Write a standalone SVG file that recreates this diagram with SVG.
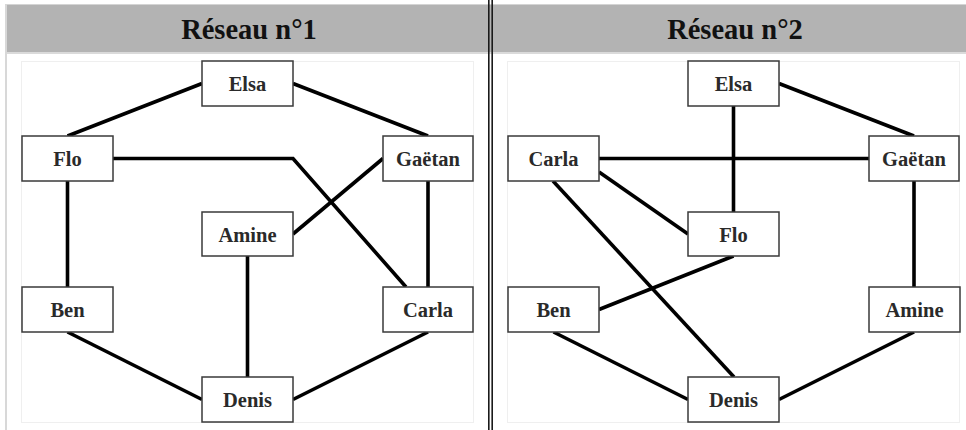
<svg xmlns="http://www.w3.org/2000/svg" width="966" height="430" viewBox="0 0 966 430">
  <style>
    .band { fill: #b3b3b3; }
    .title { font-family: "Liberation Serif", "Times New Roman", serif; font-weight: bold; font-size: 28.5px; fill: #111; text-anchor: middle; }
    .frame { fill: none; stroke: #efefef; stroke-width: 1; }
    .node rect { fill: #fff; stroke: #3a3a3a; stroke-width: 1.5; }
    .node text { font-family: "Liberation Serif", "Times New Roman", serif; font-weight: bold; font-size: 20.5px; fill: #2a2a2a; text-anchor: middle; }
    .edges line, .edges polyline { stroke: #000; stroke-width: 3.6; fill: none; stroke-linecap: butt; }
  </style>

  <rect width="966" height="430" fill="#fff"/>

  <!-- header bands -->
  <rect x="6" y="4" width="960" height="48" class="band"/>
  <line x1="6" y1="4.5" x2="966" y2="4.5" stroke="#d4d4d4" stroke-width="1"/>
  <rect x="6" y="52" width="960" height="2" fill="#dadada"/>
  <rect x="5" y="4" width="2" height="426" fill="#d8d8d8"/>
  <text class="title" x="249" y="39">Réseau n°1</text>
  <text class="title" x="735" y="39">Réseau n°2</text>

  <!-- column divider -->
  <rect x="488" y="0" width="1.6" height="430" fill="#1a1a1a"/>
  <rect x="491.4" y="0" width="1.6" height="430" fill="#1a1a1a"/>

  <!-- inner frames -->
  <rect class="frame" x="21.5" y="61.5" width="452" height="361"/>
  <rect class="frame" x="507.5" y="61.5" width="452" height="361"/>

  <!-- network 1 connectors -->
  <g id="edges-1" class="edges">
    <line x1="67.5" y1="136" x2="202" y2="83.5"/>
    <line x1="293" y1="83.5" x2="428" y2="136"/>
    <polyline points="113,158.5 293,158.5 406,287"/>
    <line x1="293" y1="234" x2="383" y2="158.5"/>
    <line x1="428" y1="181" x2="428" y2="287"/>
    <line x1="67.5" y1="181" x2="67.5" y2="287"/>
    <line x1="247.5" y1="256" x2="247.5" y2="377"/>
    <line x1="67.5" y1="332" x2="202" y2="399.5"/>
    <line x1="428" y1="332" x2="293" y2="399.5"/>
  </g>

  <!-- network 2 connectors -->
  <g id="edges-2" class="edges">
    <line x1="779" y1="83.5" x2="914" y2="136"/>
    <line x1="599" y1="158.5" x2="869" y2="158.5"/>
    <line x1="733.5" y1="106" x2="733.5" y2="212"/>
    <line x1="599" y1="172" x2="688" y2="234"/>
    <line x1="553" y1="181" x2="734" y2="377"/>
    <line x1="733.5" y1="256" x2="599" y2="309.5"/>
    <line x1="914" y1="181" x2="914" y2="287"/>
    <line x1="553.5" y1="332" x2="688" y2="399.5"/>
    <line x1="914" y1="332" x2="779" y2="399.5"/>
  </g>

  <!-- network 1 nodes -->
  <g id="n1-elsa" class="node"><rect x="202" y="61" width="91" height="45"/><text x="247.5" y="91">Elsa</text></g>
  <g id="n1-flo" class="node"><rect x="22" y="136" width="91" height="45"/><text x="67.5" y="166">Flo</text></g>
  <g id="n1-gaetan" class="node"><rect x="383" y="136" width="90" height="45"/><text x="428" y="166">Gaëtan</text></g>
  <g id="n1-amine" class="node"><rect x="202" y="212" width="91" height="44"/><text x="247.5" y="241.5">Amine</text></g>
  <g id="n1-ben" class="node"><rect x="22" y="287" width="91" height="45"/><text x="67.5" y="317">Ben</text></g>
  <g id="n1-carla" class="node"><rect x="383" y="287" width="90" height="45"/><text x="428" y="317">Carla</text></g>
  <g id="n1-denis" class="node"><rect x="202" y="377" width="91" height="45"/><text x="247.5" y="407">Denis</text></g>

  <!-- network 2 nodes -->
  <g id="n2-elsa" class="node"><rect x="688" y="61" width="91" height="45"/><text x="733.5" y="91">Elsa</text></g>
  <g id="n2-carla" class="node"><rect x="508" y="136" width="91" height="45"/><text x="553.5" y="166">Carla</text></g>
  <g id="n2-gaetan" class="node"><rect x="869" y="136" width="90" height="45"/><text x="914" y="166">Gaëtan</text></g>
  <g id="n2-flo" class="node"><rect x="688" y="212" width="91" height="44"/><text x="733.5" y="241.5">Flo</text></g>
  <g id="n2-ben" class="node"><rect x="508" y="287" width="91" height="45"/><text x="553.5" y="317">Ben</text></g>
  <g id="n2-amine" class="node"><rect x="869" y="287" width="91" height="45"/><text x="914.5" y="317">Amine</text></g>
  <g id="n2-denis" class="node"><rect x="688" y="377" width="91" height="45"/><text x="733.5" y="407">Denis</text></g>
</svg>
